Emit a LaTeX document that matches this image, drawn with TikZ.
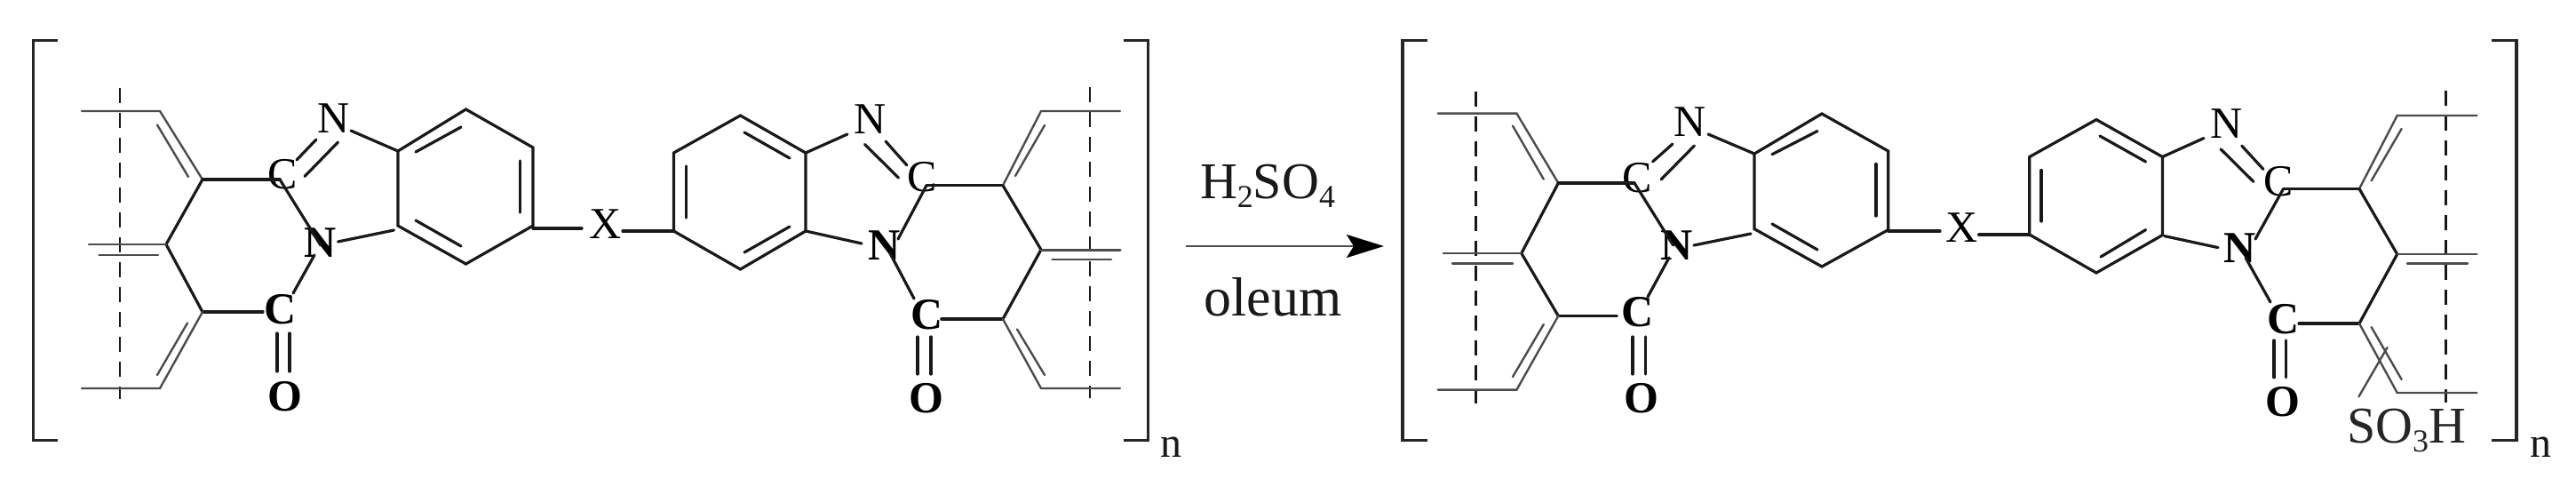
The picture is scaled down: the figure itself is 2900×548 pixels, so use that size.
\documentclass[tikz,border=0pt]{standalone}
\usepackage{fontspec}
\setmainfont{Liberation Serif}
\usetikzlibrary{arrows.meta}
\newcommand{\lowidx}[2]{\raisebox{-#1pt}{\fontsize{36}{36}\selectfont #2}}
\tikzset{
  bond/.style={draw=black!90,line width=3.2pt,line cap=round},
  thinbond/.style={draw=black!70,line width=2.4pt,line cap=round},
  chaindash/.style={draw=black!90,line width=2.6pt,dash pattern=on 17pt off 11pt},
  bracketline/.style={draw=black!85,line width=3.4pt,line join=miter},
  atom/.style={inner sep=0pt,font=\fontsize{50}{50}\selectfont,text=black},
  boldatom/.style={inner sep=0pt,font=\fontsize{50}{50}\selectfont\bfseries,text=black},
  reagent/.style={inner sep=0pt,font=\fontsize{58}{58}\selectfont,text=black!90},
  small/.style={inner sep=0pt,font=\fontsize{48}{48}\selectfont,text=black!90}
}
\begin{document}
\begin{tikzpicture}[x=1pt,y=-1pt]
\useasboundingbox[fill=white] (0,0) rectangle (2900,548);
% ===== unit A =====
\coordinate (a1) at (92,125); \coordinate (a2) at (180,125); \coordinate (a3) at (228,202);
\coordinate (a4) at (315,202); \coordinate (a5) at (187,275); \coordinate (a6) at (100,275);
\coordinate (a7) at (228,351); \coordinate (a8) at (180,437); \coordinate (a9) at (92,437);
\coordinate (ab1) at (448,170); \coordinate (ab2) at (524.5,123); \coordinate (ab3) at (600,166);
\coordinate (ab4) at (600,254); \coordinate (ab5) at (524.5,297); \coordinate (ab6) at (448,254);
\coordinate (ad1) at (135,99); \coordinate (ad2) at (135,449);
\node[atom] (aN1) at (376,133) {N};
\node[atom] (aC1) at (318,196) {C};
\node[boldatom] (aN2) at (361,273) {N};
\node[boldatom] (aC2) at (316,348) {C};
\node[boldatom] (aO) at (321,446) {O};
\node[atom] (X1) at (682,252) {X};
\draw[chaindash] (ad1) -- (ad2);
\draw[thinbond] (a1) -- (a2) -- (a3);
\draw[thinbond] (177,140.5) -- (212,199);
\draw[bond,line width=3.8pt] (a3) -- (a4);
\draw[bond] (a3) -- (a5) -- (a7);
\draw[thinbond] (a6) -- (a5);
\draw[thinbond] (111.5,287) -- (178,287);
\draw[bond] (a7) -- (296,351);
\draw[thinbond] (a7) -- (a8) -- (a9);
\draw[thinbond] (211,363.5) -- (177,422);
\draw[bond] (312,375) -- (312,418);
\draw[bond] (326,375) -- (326,418);
\draw[bond] (356,157) -- (334,180);
\draw[bond] (380.5,160) -- (343,198.5);
\draw[bond] (395,147) -- (ab1);
\draw[bond] (a4) -- (361,276);
\draw[bond] (354,287) -- (330,330);
\draw[bond] (380.5,272) -- (443.5,259);
\draw[bond] (ab1) -- (ab2) -- (ab3) -- (ab4) -- (ab5) -- (ab6) -- cycle;
\draw[bond] (468,171) -- (519,143);
\draw[bond] (585.5,181) -- (585.5,239);
\draw[bond] (468,248) -- (519,277);
\draw[bond] (600,257) -- (655,257);
\draw[bracketline] (65,45.5) -- (37.5,45.5) -- (37.5,495.5) -- (65,495.5);
% ===== unit B =====
\coordinate (b1) at (758.4,172); \coordinate (b2) at (833.5,130); \coordinate (b3) at (907,172);
\coordinate (b4) at (907,260); \coordinate (b5) at (833.5,303); \coordinate (b6) at (758.4,260);
\coordinate (c1) at (1043,208.7); \coordinate (c2) at (1129,208.7); \coordinate (c3) at (1172,125);
\coordinate (c4) at (1261,125); \coordinate (c5) at (1172,281); \coordinate (c6) at (1261,281);
\coordinate (c7) at (1129,359); \coordinate (c8) at (1172,437); \coordinate (c9) at (1261,437);
\coordinate (bd1) at (1227,98); \coordinate (bd2) at (1227,448);
\node[atom] (bN1) at (980,134.5) {N};
\node[atom] (bC1) at (1038,199) {C};
\node[boldatom] (bN2) at (995.4,276) {N};
\node[boldatom] (bC2) at (1044,354) {C};
\node[boldatom] (bO) at (1043,448) {O};
\draw[chaindash] (bd1) -- (bd2);
\draw[bond] (701,260) -- (b6);
\draw[bond] (b1) -- (b2) -- (b3) -- (b4) -- (b5) -- (b6) -- cycle;
\draw[bond] (772.5,187) -- (772.5,245);
\draw[bond] (838,149) -- (889,178);
\draw[bond] (838,284) -- (889,255);
\draw[bond] (954,151) -- (b3);
\draw[bond] (997,159) -- (1021,186);
\draw[bond] (973.6,162.5) -- (1011.4,200);
\draw[bond] (c1) -- (1011,269);
\draw[bond] (970,274) -- (b4);
\draw[bond] (1002,285) -- (1029,336);
\draw[bond] (1033,379) -- (1033,421);
\draw[bond] (1048,379) -- (1048,421);
\draw[bond,line width=3.6pt] (1060,359) -- (c7);
\draw[bond,line width=3.6pt] (c1) -- (c2);
\draw[thinbond] (c2) -- (c3) -- (c4);
\draw[thinbond] (1176,141) -- (1143,198);
\draw[bond] (c2) -- (c5) -- (c7);
\draw[thinbond,line width=3pt] (c5) -- (c6);
\draw[thinbond] (1184.5,292) -- (1251,292);
\draw[thinbond] (c7) -- (c8) -- (c9);
\draw[thinbond] (1145,370.5) -- (1176,422);
\draw[bracketline] (1265,45.5) -- (1292.5,45.5) -- (1292.5,495.5) -- (1265,495.5);
\node[small] (n1) at (1318,503) {n};
% ===== reaction arrow =====
\node[reagent] (acid) at (1427,209) {H\lowidx{10}{2}SO\lowidx{10}{4}};
\node[reagent,font=\fontsize{62}{62}\selectfont] (oleum) at (1433,334) {oleum};
\coordinate (arrS) at (1335,277); \coordinate (arrE) at (1558,277);
\draw[draw=black!70,line width=2.4pt,-{Stealth[length=42pt,width=26pt,inset=8pt,color=black]}] (arrS) -- (arrE);
% ===== unit C =====
\coordinate (d1) at (1618.6,127.6); \coordinate (d2) at (1707.4,127.6); \coordinate (d3) at (1754.3,206);
\coordinate (d4) at (1840,206); \coordinate (d5) at (1712.8,285); \coordinate (d6) at (1624.8,285);
\coordinate (d7) at (1754.3,355.5); \coordinate (d8) at (1707.4,438.6); \coordinate (d9) at (1618.6,438.6);
\coordinate (e1) at (1975,173); \coordinate (e2) at (2051,128); \coordinate (e3) at (2125.7,170);
\coordinate (e4) at (2125.7,258.6); \coordinate (e5) at (2051,300); \coordinate (e6) at (1975,257.6);
\coordinate (dd1) at (1661.4,103); \coordinate (dd2) at (1661.4,454);
\node[atom] (dN1) at (1903,137) {N};
\node[atom] (dC1) at (1843.6,200) {C};
\node[boldatom] (dN2) at (1888,276) {N};
\node[boldatom] (dC2) at (1843.6,351) {C};
\node[boldatom] (dO) at (1848,448.5) {O};
\node[atom] (X2) at (2209,256) {X};
\draw[chaindash] (dd1) -- (dd2);
\draw[thinbond] (d1) -- (d2) -- (d3);
\draw[thinbond] (1703,141.6) -- (1737.8,201.7);
\draw[bond] (d3) -- (d4);
\draw[bond] (d3) -- (d5) -- (d7);
\draw[thinbond] (d6) -- (d5);
\draw[thinbond] (1635,296.4) -- (1703,296.4);
\draw[bond] (d7) -- (1820.4,355.5);
\draw[thinbond] (d7) -- (d8) -- (d9);
\draw[thinbond] (1737.8,365) -- (1703,424);
\draw[bond] (1838,379) -- (1838,421);
\draw[bond] (1852.5,379) -- (1852.5,421);
\draw[bond] (1883,162) -- (1860.5,182);
\draw[bond] (1907.4,164) -- (1870,202);
\draw[bond] (1923,151) -- (e1);
\draw[bond] (d4) -- (1883.7,276);
\draw[bond] (1879,290) -- (1855,334);
\draw[bond] (1907,276) -- (1971,263);
\draw[bond] (e1) -- (e2) -- (e3) -- (e4) -- (e5) -- (e6) -- cycle;
\draw[bond] (1995,173.7) -- (2046,147.5);
\draw[bond] (2112,184.5) -- (2112,243);
\draw[bond] (1995,252) -- (2046,281);
\draw[bond] (2125.7,260) -- (2184,260);
\draw[bracketline] (1607,45.5) -- (1579,45.5) -- (1579,495.5) -- (1607,495.5);
% ===== unit D =====
\coordinate (f1) at (2284.8,176.5); \coordinate (f2) at (2360,134.6); \coordinate (f3) at (2434.4,176.5);
\coordinate (f4) at (2434.4,264.6); \coordinate (f5) at (2360,307); \coordinate (f6) at (2284.8,264);
\coordinate (g1) at (2570.5,212.5); \coordinate (g2) at (2656,212.5); \coordinate (g3) at (2698.7,130);
\coordinate (g4) at (2788.4,130); \coordinate (g5) at (2698.7,286); \coordinate (g6) at (2788.4,286);
\coordinate (g7) at (2656,364); \coordinate (g8) at (2698.7,442); \coordinate (g9) at (2788.4,442);
\coordinate (gd1) at (2753.6,102.4); \coordinate (gd2) at (2753.6,452.6);
\coordinate (sb1) at (2687.5,391); \coordinate (sb2) at (2655.4,446.4);
\node[atom] (gN1) at (2506.7,138.8) {N};
\node[atom] (gC1) at (2565,204.5) {C};
\node[boldatom] (gN2) at (2522,279.6) {N};
\node[boldatom] (gC2) at (2570.5,359) {C};
\node[boldatom] (gO) at (2569.6,452.6) {O};
\node[inner sep=0pt,font=\fontsize{58}{58}\selectfont,text=black!85] (so3h) at (2709,484) {SO\lowidx{10}{3}H};
\draw[chaindash] (gd1) -- (gd2);
\draw[bond] (2227.7,264) -- (f6);
\draw[bond] (f1) -- (f2) -- (f3) -- (f4) -- (f5) -- (f6) -- cycle;
\draw[bond] (2298,191.5) -- (2298,249);
\draw[bond] (2364,153) -- (2415.6,182);
\draw[bond] (2365,289) -- (2415.6,258.6);
\draw[bond] (2481,155.5) -- (f3);
\draw[bond] (2523.7,164) -- (2548,190.5);
\draw[bond] (2500,167.8) -- (2537,204.5);
\draw[bond] (g1) -- (2539,269);
\draw[bond] (2497,278.6) -- (2436.6,265.6);
\draw[bond] (2528,290) -- (2556,340);
\draw[bond] (2560,383) -- (2560,424.7);
\draw[bond] (2573.7,383) -- (2573.7,424.7);
\draw[bond] (2588,364) -- (g7);
\draw[bond] (g1) -- (g2);
\draw[thinbond] (g2) -- (g3) -- (g4);
\draw[thinbond] (2703.6,145) -- (2669.6,203.4);
\draw[bond] (g2) -- (g5) -- (g7);
\draw[thinbond] (g5) -- (g6);
\draw[thinbond] (2710,296.4) -- (2778,296.4);
\draw[thinbond] (g7) -- (g8) -- (g9);
\draw[thinbond] (2669.6,368) -- (2703.6,427);
\draw[thinbond] (sb1) -- (sb2);
\draw[bracketline] (2805,45.5) -- (2833,45.5) -- (2833,495.5) -- (2805,495.5);
\node[small] (n2) at (2860,503) {n};
\end{tikzpicture}
\end{document}
